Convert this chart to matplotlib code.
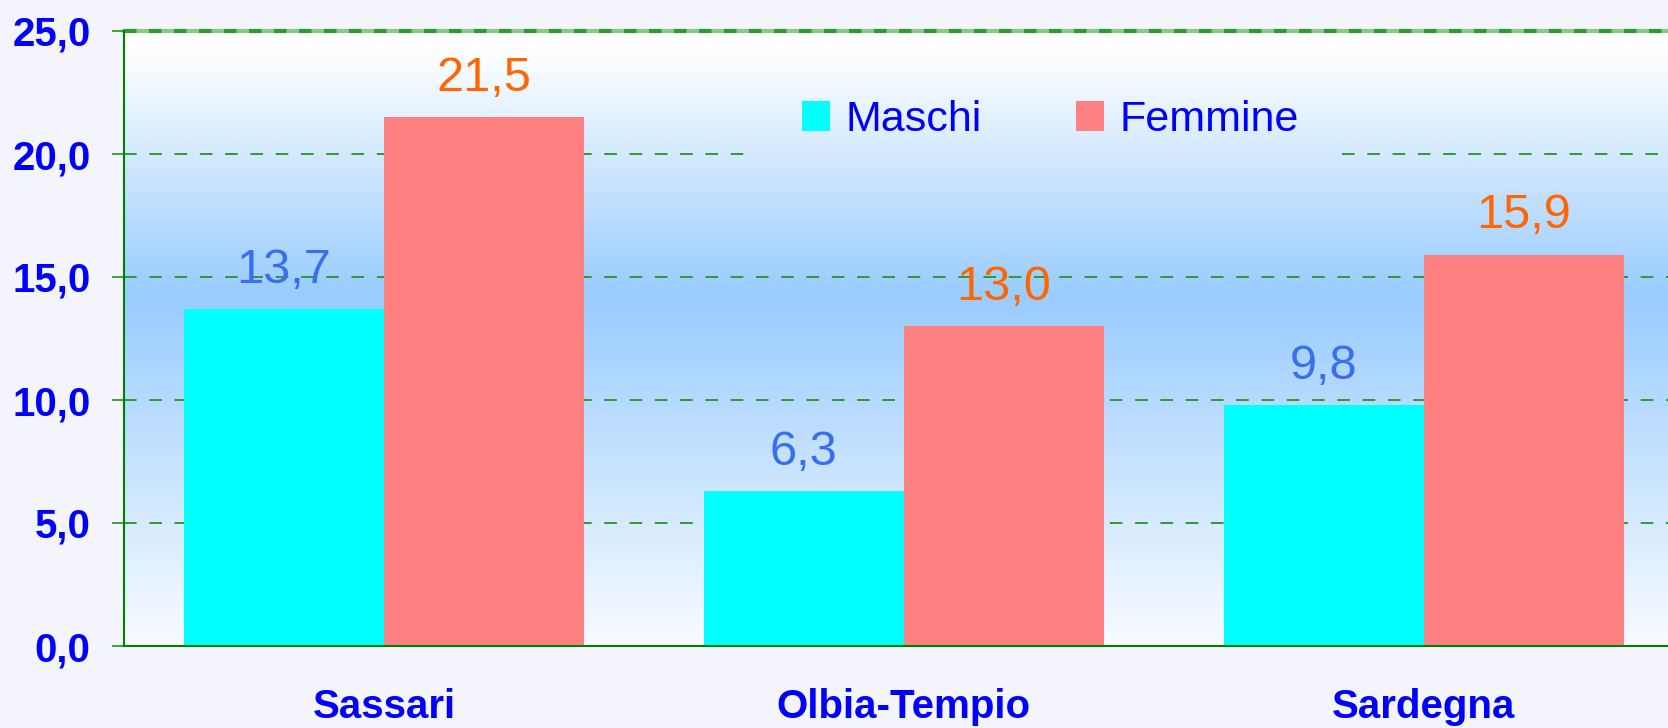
import numpy as np
import matplotlib
matplotlib.use("Agg")
import matplotlib.pyplot as plt
from matplotlib.colors import LinearSegmentedColormap
from matplotlib.patches import Patch

categories = ["Sassari", "Olbia-Tempio", "Sardegna"]
maschi = [13.7, 6.3, 9.8]
femmine = [21.5, 13.0, 15.9]
series_names = ["Maschi", "Femmine"]
yticks = [0, 5, 10, 15, 20, 25]
ytick_labels = ["0,0", "5,0", "10,0", "15,0", "20,0", "25,0"]

plt.rcParams['font.family'] = ['Liberation Sans', 'DejaVu Sans']

fig = plt.figure(figsize=(16.68, 7.28), dpi=100, facecolor='#F4F4FC')
ax = fig.add_axes([124/1668, 82/728, 1544/1668, 615/728])
ax.set_xlim(-0.5, 2.47)
ax.set_ylim(0, 25)

# gradient background
cmap = LinearSegmentedColormap.from_list('bg', [(0.0, '#F8FBFF'), (0.57, '#99CCFF'), (0.97, '#FFFFFF'), (1.0, '#FFFFFF')])
grad = np.linspace(0, 1, 256).reshape(-1, 1)
ax.imshow(grad, cmap=cmap, aspect='auto', origin='lower',
          extent=[-0.5, 2.47, 0, 25], zorder=0)

green = '#2E9B2E'
dash = (0, (6.5, 6.5))
# gridlines
for v in [5, 10, 15]:
    ax.axhline(v, color=green, lw=1.4, ls=dash, zorder=1)
ax.axhline(20, xmin=0, xmax=0.408, color=green, lw=1.4, ls=dash, zorder=1)
ax.axhline(20, xmin=0.789, xmax=1, color=green, lw=1.4, ls=dash, zorder=1)
ax.axhline(25, color='#8CC88C', lw=3, zorder=1, clip_on=False)
ax.axhline(25, color=green, lw=3, ls=(0, (3, 3)), zorder=1, clip_on=False)

x = np.arange(len(categories))
w = 0.385
b1 = ax.bar(x - w/2, maschi, w, color='#00FFFF', zorder=2, label=series_names[0])
b2 = ax.bar(x + w/2, femmine, w, color='#FF8080', zorder=2, label=series_names[1])

for rect, v in zip(b1, maschi):
    ax.annotate(f"{v:.1f}".replace('.', ','), (rect.get_x() + rect.get_width()/2, v),
                xytext=(0, 19), textcoords='offset points', ha='center', va='baseline',
                fontsize=35, color='#3A6EF0', zorder=3)
for rect, v in zip(b2, femmine):
    ax.annotate(f"{v:.1f}".replace('.', ','), (rect.get_x() + rect.get_width()/2, v),
                xytext=(0, 19), textcoords='offset points', ha='center', va='baseline',
                fontsize=35, color='#FF6600', zorder=3)

# spines
for s in ['top', 'right']:
    ax.spines[s].set_visible(False)
for s in ['left', 'bottom']:
    ax.spines[s].set_color('#008000')
    ax.spines[s].set_linewidth(1.5)
    ax.spines[s].set_zorder(4)

ax.set_yticks(yticks)
ax.set_yticklabels(ytick_labels)
ax.tick_params(axis='y', direction='out', length=9, width=1.3, color=green,
               pad=15, labelsize=29, labelcolor='#0000FF')
for lab in ax.get_yticklabels():
    lab.set_fontweight('bold')

ax.set_xticks(x)
ax.set_xticklabels(categories)
ax.tick_params(axis='x', length=0, pad=30, labelsize=29, labelcolor='#0000FF')
for lab in ax.get_xticklabels():
    lab.set_fontweight('bold')

handles = [Patch(facecolor='#00FFFF', edgecolor='none'), Patch(facecolor='#FF8080', edgecolor='none')]
leg = ax.legend(handles, series_names, loc='center', bbox_to_anchor=(0.600, 0.855),
                ncol=2, frameon=False, fontsize=31, handlelength=0.65, handleheight=0.72,
                handletextpad=0.35, columnspacing=2.2)
for t in leg.get_texts():
    t.set_color('#0000FF')

fig.savefig('out.png', dpi=100, facecolor=fig.get_facecolor())
